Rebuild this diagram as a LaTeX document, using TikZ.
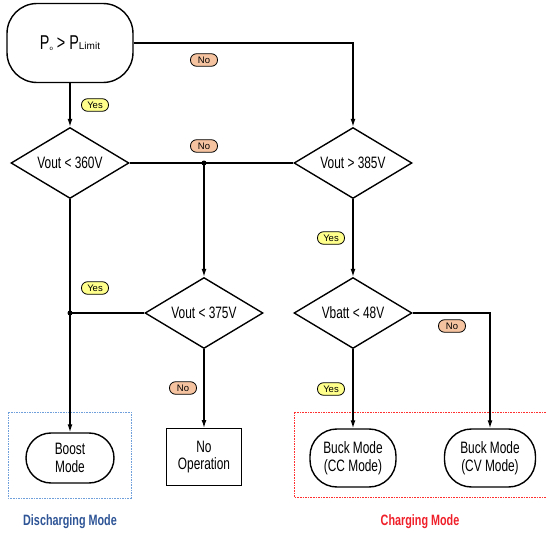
\documentclass[tikz,border=0pt]{standalone}
\usepackage{fontspec}
\setmainfont{Liberation Sans}[FakeStretch=0.72]
\newfontfamily\labfont{Liberation Sans}
\usetikzlibrary{shapes.geometric,arrows.meta}
\definecolor{yesfill}{HTML}{FFFF8C}
\definecolor{nofill}{HTML}{F6C3A0}
\definecolor{blueframe}{HTML}{6FA0DC}
\definecolor{redframe}{HTML}{FF3030}
\definecolor{bluetext}{HTML}{2F5597}
\definecolor{redtext}{HTML}{F0202A}
\begin{document}
\begin{tikzpicture}[x=1pt,y=-1pt,
  every node/.style={font=\fontsize{16.5}{17.5}\selectfont},
  dec/.style={diamond, draw, fill=white, line width=1.4pt, aspect=1.66, minimum width=118pt, minimum height=71pt, inner sep=0pt},
  term/.style={draw, fill=white, line width=1.4pt, align=center, inner sep=0pt},
  proc/.style={draw, fill=white, line width=1pt, align=center, inner sep=0pt},
  lab/.style={draw, line width=0.8pt, rounded corners=6pt, minimum width=27pt, minimum height=12.5pt, inner sep=0pt, text height=7pt, text depth=0pt, font=\labfont\fontsize{9.5}{10}\selectfont},
  yeslab/.style={lab, fill=yesfill},
  nolab/.style={lab, fill=nofill},
  flow/.style={line width=1.3pt, -{Latex[length=8pt,width=5pt]}},
  conn/.style={line width=1.3pt},
  dot/.style={circle, fill, inner sep=0pt, minimum size=5pt},
  frame/.style={line width=0.9pt, dash pattern=on 1.6pt off 1pt}
]
\clip (0,0) rectangle (547,535);
\fill[white] (0,0) rectangle (547,535);

% frames
\draw[frame, blueframe] (8,412) rectangle (131,498);
\draw[frame, redframe] (294,412) rectangle (552,497);

% nodes
\node[term, rounded corners=30pt, minimum width=126pt, minimum height=79pt] (start) at (70,43)
  {\fontsize{20}{20}\selectfont P{\labfont\fontsize{6}{6}\selectfont\raisebox{-1pt}{o}} > P{\labfont\fontsize{10}{10}\selectfont Limit}};
\node[dec] (d1) at (70,163) {Vout < 360V};
\node[dec] (d2) at (353,163) {Vout > 385V};
\node[dec] (d3) at (204,313) {Vout < 375V};
\node[dec] (d4) at (353,313) {Vbatt < 48V};
\node[term, rounded corners=25pt, minimum width=88pt, minimum height=50pt] (boost) at (70,458) {Boost\\Mode};
\node[proc, minimum width=75pt, minimum height=57pt] (noop) at (204,457) {No\\Operation};
\node[term, rounded corners=27pt, minimum width=86pt, minimum height=58pt] (cc) at (353,458) {Buck Mode\\(CC Mode)};
\node[term, rounded corners=27pt, minimum width=91pt, minimum height=58pt] (cv) at (490,458) {Buck Mode\\(CV Mode)};

\coordinate (j1) at (204,163);
\coordinate (j2) at (70,313);

% connectors
\draw[flow] (start.south) -- (d1.north);
\draw[flow] (start.east) -| (d2.north);
\draw[conn] (d1.east) -- (d2.west);
\draw[flow] (j1) -- (d3.north);
\draw[flow] (d1.south) -- (boost.north);
\draw[conn] (d3.west) -- (j2);
\draw[flow] (d2.south) -- (d4.north);
\draw[flow] (d4.east) -| (cv.north);
\draw[flow] (d4.south) -- (cc.north);
\draw[flow] (d3.south) -- (noop.north);
\node[dot] (dot1) at (j1) {};
\node[dot] (dot2) at (j2) {};

% labels
\node[yeslab] (y1) at (95,105) {Yes};
\node[nolab] (n1) at (204,60) {No};
\node[nolab] (n2) at (204,146) {No};
\node[yeslab] (y2) at (95,288) {Yes};
\node[yeslab] (y3) at (331,238) {Yes};
\node[nolab] (n3) at (452,326) {No};
\node[nolab] (n4) at (183,388) {No};
\node[yeslab] (y4) at (331,389) {Yes};

\node[font=\bfseries\fontsize{15}{15}\selectfont, text=bluetext] (dm) at (70,522) {Discharging Mode};
\node[font=\bfseries\fontsize{15}{15}\selectfont, text=redtext] (cm) at (420,522) {Charging Mode};
\end{tikzpicture}
\end{document}
